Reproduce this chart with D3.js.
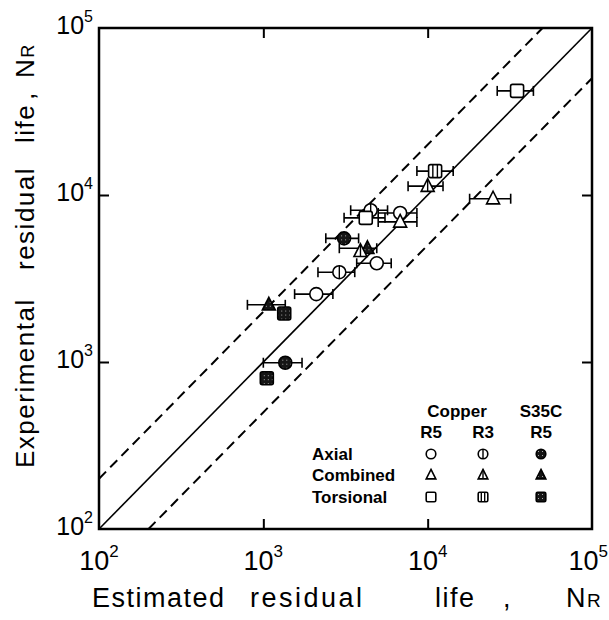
<!DOCTYPE html>
<html>
<head>
<meta charset="utf-8">
<script src="https://cdn.jsdelivr.net/npm/d3@7"></script>
<style>
  body { margin: 0; background: #fff; }
  svg { font-family: 'Liberation Sans', Arial, sans-serif; }
</style>
</head>
<body>
<div class="chart"></div>
<script>
'use strict'
var seriesNames = ['Copper R5', 'Copper R3', 'S35C R5']
var loadings = ['Axial', 'Combined', 'Torsional']
var estimated = [35000, 11100, 10000, 25000, 4500, 4200, 6800, 6800, 3100, 4300, 3900, 4900, 2900, 2100, 1080, 1340, 1360, 1050]
var experimental = [42000, 13900, 11300, 9500, 8100, 7300, 7800, 6900, 5500, 4800, 4600, 3900, 3450, 2550, 2200, 1950, 990, 800]
var estLow = [26500, 8600, 7600, 18000, 3400, 3100, 5000, 5000, 2400, 2900, null, 3700, 2150, 1550, 800, null, 1000, null]
var estHigh = [44000, 14300, 12400, 32000, 5700, 5500, 8600, 8600, 3800, 4900, null, 6000, 3600, 2650, 1360, null, 1720, null]
var seriesOf = [0, 1, 1, 0, 1, 0, 0, 0, 2, 2, 1, 0, 1, 0, 2, 2, 2, 2]
var loadingOf = [2, 2, 1, 1, 0, 2, 0, 1, 0, 1, 1, 0, 0, 0, 1, 2, 0, 2]
var tickExponents = [2, 3, 4, 5]
var bandFactor = 2

var width = 609
var height = 620
var x = d3.scaleLog().domain([1e2, 1e5]).range([99, 592])
var y = d3.scaleLog().domain([1e2, 1e5]).range([529, 28])

var svg = d3.select('.chart').append('svg')
  .attr('width', width)
  .attr('height', height)

var defs = svg.append('defs')
var pat = defs.append('pattern')
  .attr('id', 'speckle')
  .attr('width', 4).attr('height', 4)
  .attr('patternUnits', 'userSpaceOnUse')
pat.append('rect').attr('width', 4).attr('height', 4).attr('fill', '#151515')
pat.append('rect').attr('x', 1).attr('y', 1).attr('width', 1).attr('height', 1).attr('fill', '#aaa')

// inner ticks on all four sides
var inner = [1e3, 1e4]
svg.append('g').attr('transform', 'translate(0,' + y.range()[0] + ')')
  .call(d3.axisBottom(x).tickValues(inner).tickSizeInner(-10).tickSizeOuter(0).tickFormat(''))
svg.append('g').attr('transform', 'translate(0,' + y.range()[1] + ')')
  .call(d3.axisTop(x).tickValues(inner).tickSizeInner(-10).tickSizeOuter(0).tickFormat(''))
svg.append('g').attr('transform', 'translate(' + x.range()[0] + ',0)')
  .call(d3.axisLeft(y).tickValues(inner).tickSizeInner(-10).tickSizeOuter(0).tickFormat(''))
svg.append('g').attr('transform', 'translate(' + x.range()[1] + ',0)')
  .call(d3.axisRight(y).tickValues(inner).tickSizeInner(-10).tickSizeOuter(0).tickFormat(''))
svg.selectAll('.domain').remove()
svg.selectAll('.tick line').attr('stroke', '#000').attr('stroke-width', 2)

svg.append('rect')
  .attr('x', x.range()[0]).attr('y', y.range()[1])
  .attr('width', x.range()[1] - x.range()[0])
  .attr('height', y.range()[0] - y.range()[1])
  .attr('fill', 'none').attr('stroke', '#000').attr('stroke-width', 2.5)

// 1:1 line and factor-of-2 band
var line = d3.line().x(function (d) { return x(d[0]) }).y(function (d) { return y(d[1]) })
var lo = x.domain()[0]
var hi = x.domain()[1]
svg.append('path').attr('d', line([[lo, lo], [hi, hi]]))
  .attr('stroke', '#000').attr('stroke-width', 1.6).attr('fill', 'none')
svg.append('path').attr('d', line([[lo, lo * bandFactor], [hi / bandFactor, hi]]))
  .attr('stroke', '#000').attr('stroke-width', 2).attr('stroke-dasharray', '10,6').attr('fill', 'none')
svg.append('path').attr('d', line([[lo * bandFactor, lo], [hi, hi / bandFactor]]))
  .attr('stroke', '#000').attr('stroke-width', 2).attr('stroke-dasharray', '10,6').attr('fill', 'none')

var drawMarker = function (g, s, l, r) {
  var fill = s === 2 ? 'url(#speckle)' : '#fff'
  var shape
  if (l === 0) {
    shape = g.append('circle').attr('r', r)
  } else if (l === 1) {
    shape = g.append('path')
      .attr('d', 'M0,' + (-r * 1.15) + 'L' + r + ',' + (r * 0.8) + 'L' + (-r) + ',' + (r * 0.8) + 'Z')
  } else {
    shape = g.append('rect').attr('x', -r).attr('y', -r)
      .attr('width', 2 * r).attr('height', 2 * r).attr('rx', r * 0.3)
  }
  shape.attr('fill', fill).attr('stroke', '#000').attr('stroke-width', 1.6)
  if (s === 1) {
    if (l === 2) {
      g.append('line').attr('x1', -r * 0.35).attr('x2', -r * 0.35).attr('y1', -r).attr('y2', r)
      g.append('line').attr('x1', r * 0.35).attr('x2', r * 0.35).attr('y1', -r).attr('y2', r)
    } else {
      g.append('line').attr('x1', 0).attr('x2', 0)
        .attr('y1', l === 1 ? -r * 1.15 : -r).attr('y2', l === 1 ? r * 0.8 : r)
    }
    g.selectAll('line').attr('stroke', '#000').attr('stroke-width', 1.4)
  }
}

// error bars on the estimated life
var idx = d3.range(estimated.length)
var bars = svg.append('g').selectAll('g')
  .data(idx.filter(function (i) { return estLow[i] !== null }))
  .enter().append('g')
  .attr('stroke', '#000').attr('stroke-width', 1.6)
bars.append('line')
  .attr('x1', function (i) { return x(estLow[i]) })
  .attr('x2', function (i) { return x(estHigh[i]) })
  .attr('y1', function (i) { return y(experimental[i]) })
  .attr('y2', function (i) { return y(experimental[i]) })
bars.append('line')
  .attr('x1', function (i) { return x(estLow[i]) })
  .attr('x2', function (i) { return x(estLow[i]) })
  .attr('y1', function (i) { return y(experimental[i]) - 5 })
  .attr('y2', function (i) { return y(experimental[i]) + 5 })
bars.append('line')
  .attr('x1', function (i) { return x(estHigh[i]) })
  .attr('x2', function (i) { return x(estHigh[i]) })
  .attr('y1', function (i) { return y(experimental[i]) - 5 })
  .attr('y2', function (i) { return y(experimental[i]) + 5 })

svg.append('g').selectAll('g')
  .data(idx)
  .enter().append('g')
  .attr('transform', function (i) { return 'translate(' + x(estimated[i]) + ',' + y(experimental[i]) + ')' })
  .each(function (i) { drawMarker(d3.select(this), seriesOf[i], loadingOf[i], 6.5) })

// tick labels 10^n
var power = function (sel, size, supSize, rise) {
  sel.text('10')
  sel.append('tspan').attr('font-size', supSize).attr('dy', -rise)
    .text(function (e) { return e })
  sel.attr('font-size', size)
}
svg.append('g').selectAll('text')
  .data(tickExponents)
  .enter().append('text')
  .attr('x', function (e, i) { return i === tickExponents.length - 1 ? 608 : x(Math.pow(10, e)) })
  .attr('y', 570)
  .attr('text-anchor', function (e, i) { return i === tickExponents.length - 1 ? 'end' : 'middle' })
  .call(power, 27, 17, 13)
svg.append('g').selectAll('text')
  .data(tickExponents)
  .enter().append('text')
  .attr('x', 93)
  .attr('y', function (e) { return y(Math.pow(10, e)) + 6 })
  .attr('text-anchor', 'end')
  .call(power, 25, 16, 12)

// axis titles, word by word as in the original lettering
var xTitle = svg.append('g').attr('font-size', 27).attr('letter-spacing', 1.5)
xTitle.append('text').attr('x', 92).attr('y', 607).text('Estimated')
xTitle.append('text').attr('x', 250).attr('y', 607).attr('letter-spacing', 2.5).text('residual')
xTitle.append('text').attr('x', 435).attr('y', 607).text('life')
xTitle.append('text').attr('x', 503).attr('y', 607).text(',')
var xn = xTitle.append('text').attr('x', 566).attr('y', 607).text('N')
xn.append('tspan').attr('font-size', 19).text('R')

var yTitle = svg.append('g').attr('font-size', 26).attr('letter-spacing', 1.5)
  .attr('transform', 'translate(34,0) rotate(-90)')
yTitle.append('text').attr('x', -468).text('Experimental')
yTitle.append('text').attr('x', -270).text('residual')
yTitle.append('text').attr('x', -143).text('life')
yTitle.append('text').attr('x', -100).text(',')
var yn = yTitle.append('text').attr('x', -78).text('N')
yn.append('tspan').attr('font-size', 18).text('R')

// legend
var legend = svg.append('g').attr('font-size', 17).attr('font-weight', 'bold')
var colX = [431, 483, 541]
var rowY = [454, 475, 497]
legend.append('text').attr('x', (colX[0] + colX[1]) / 2).attr('y', 417)
  .attr('text-anchor', 'middle').text(seriesNames[0].split(' ')[0])
legend.append('text').attr('x', colX[2]).attr('y', 417)
  .attr('text-anchor', 'middle').text(seriesNames[2].split(' ')[0])
legend.selectAll('.grade')
  .data(seriesNames)
  .enter().append('text')
  .attr('class', 'grade')
  .attr('x', function (d, i) { return colX[i] })
  .attr('y', 438)
  .attr('text-anchor', 'middle')
  .text(function (d) { return d.split(' ')[1] })
legend.selectAll('.load')
  .data(loadings)
  .enter().append('text')
  .attr('class', 'load')
  .attr('x', 312)
  .attr('y', function (d, i) { return rowY[i] + 6 })
  .text(function (d) { return d })
loadings.forEach(function (l, li) {
  seriesNames.forEach(function (s, si) {
    var g = legend.append('g').attr('transform', 'translate(' + colX[si] + ',' + rowY[li] + ')')
    drawMarker(g, si, li, 4.8)
  })
})
</script>
</body>
</html>
